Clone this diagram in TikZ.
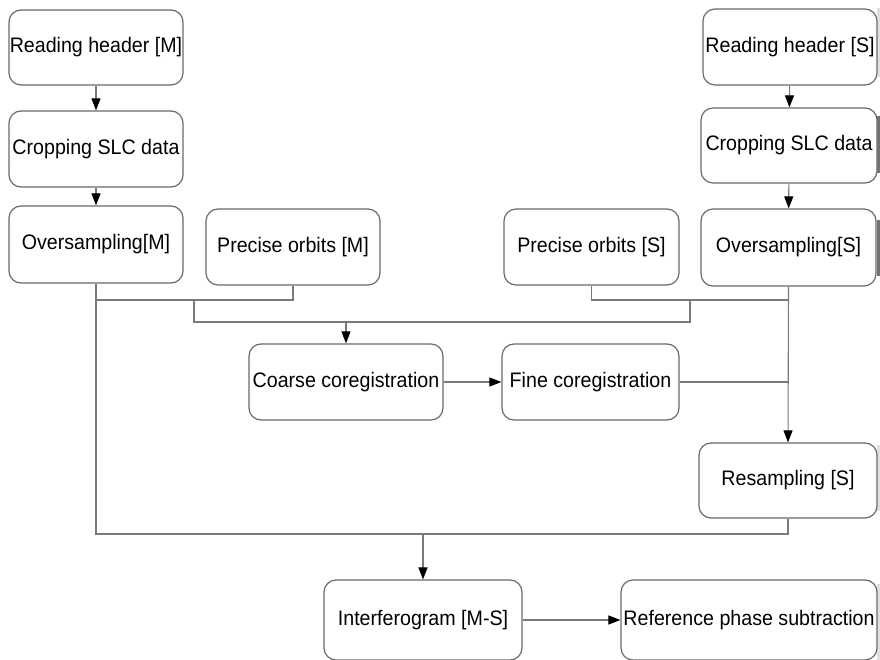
\documentclass[tikz,border=0pt]{standalone}
\usepackage{fontspec}
\setmainfont{Liberation Sans}[FakeStretch=0.935]
\usetikzlibrary{arrows.meta}
\definecolor{boxline}{HTML}{6A6A6A}
\definecolor{connline}{HTML}{7A7A7A}
\begin{document}
\begin{tikzpicture}[x=1pt,y=-1pt,
  procbox/.style={draw=boxline, line width=1.2pt, rounded corners=12pt, fill=white,
    inner sep=0pt, font=\fontsize{21}{24}\selectfont, text=black},
  conn/.style={draw=connline, line width=1.1pt},
  arr/.style={conn, -{Triangle[length=12pt,width=9pt,color=black]}}]
\useasboundingbox (0,0) rectangle (880,660);
% shadow bars at right edge
\fill[black!12] (877,8) rectangle (880,77);
\fill[black!55] (877,116) rectangle (880,173);
\fill[black!55] (877,220) rectangle (880,276);
\fill[black!12] (877,445) rectangle (880,511);
\fill[black!12] (877,584) rectangle (880,660);
% boxes
\node[procbox, minimum width=174pt, minimum height=75pt] (rhm) at (96,47.5) {Reading header [M]};
\node[procbox, minimum width=174pt, minimum height=76pt] (csm) at (96,149) {Cropping SLC data};
\node[procbox, minimum width=174pt, minimum height=77pt] (osm) at (96,244.5) {Oversampling[M]};
\node[procbox, minimum width=174pt, minimum height=76pt] (pom) at (293,247) {Precise orbits [M]};
\node[procbox, minimum width=175pt, minimum height=76pt] (pos) at (591.5,247) {Precise orbits [S]};
\node[procbox, minimum width=175pt, minimum height=77pt] (oss) at (788.5,247.5) {Oversampling[S]};
\node[procbox, minimum width=174pt, minimum height=76pt] (rhs) at (790,47) {Reading header [S]};
\node[procbox, minimum width=176pt, minimum height=75pt] (css) at (789,145.5) {Cropping SLC data};
\node[procbox, minimum width=194pt, minimum height=76pt] (coarse) at (346,382) {Coarse coregistration};
\node[procbox, minimum width=177pt, minimum height=76pt] (fine) at (590.5,382) {Fine coregistration};
\node[procbox, minimum width=178pt, minimum height=75pt] (res) at (788,480.5) {Resampling [S]};
\node[procbox, minimum width=198pt, minimum height=80pt] (ifg) at (423,620) {Interferogram [M-S]};
\node[procbox, minimum width=256pt, minimum height=80pt] (ref) at (749,620) {Reference phase subtraction};
% junction coordinates
\coordinate (ja) at (194,300);
\coordinate (jc) at (346,322);
\coordinate (jd) at (690,300);
\coordinate (jb) at (423,534);
% connectors
\draw[arr] (rhm) -- (csm);
\draw[arr] (csm) -- (osm);
\draw[arr] (rhs) -- (css);
\draw[arr] (css) -- (oss);
\draw[conn] (pom.south) |- (osm.south |- ja);
\draw[conn] (pos.south) |- (oss.south |- jd);
\draw[conn] (ja) |- (jc) -| (jd);
\draw[arr] (jc) -- (coarse.north);
\draw[arr] (coarse) -- (fine);
\draw[conn] (fine.east) -- (fine.east -| oss.south);
\draw[arr] (oss.south) -- (res.north);
\draw[conn] (osm.south) |- (jb) -| (res.south);
\draw[arr] (jb) -- (ifg.north);
\draw[arr] (ifg) -- (ref);
\end{tikzpicture}
\end{document}
